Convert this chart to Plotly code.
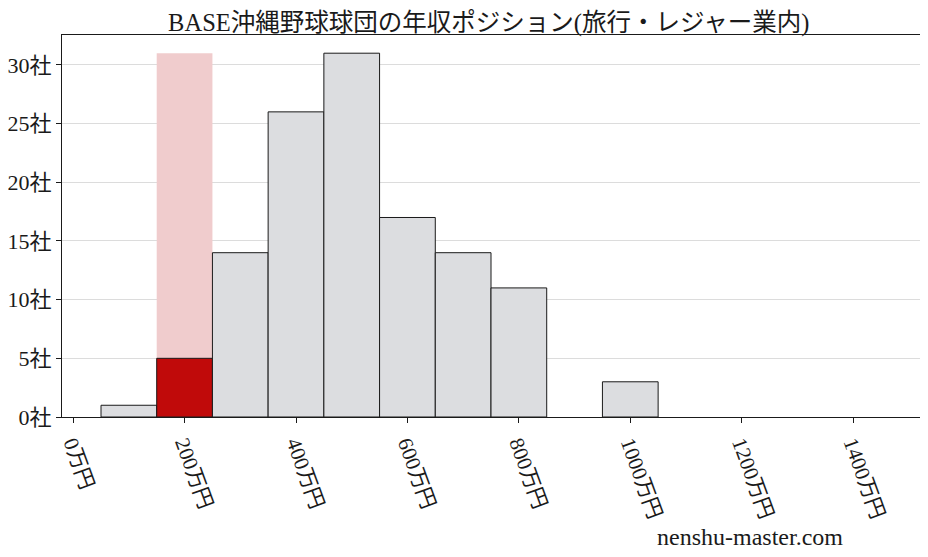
import plotly.graph_objects as go

# histogram bins (centre of each 100万円 bin) and company counts
bin_centers = [100, 200, 300, 400, 500, 600, 700, 800, 900, 1000]
counts = [1, 5, 14, 26, 31, 17, 14, 11, 0, 3]
highlight_center = 200  # bin where BASE沖縄野球球団 sits

x_ticks = [0, 200, 400, 600, 800, 1000, 1200, 1400]
x_labels = [f"{v}万円" for v in x_ticks]
y_ticks = [0, 5, 10, 15, 20, 25, 30]
y_labels = [f"{v}社" for v in y_ticks]

title = "BASE沖縄野球球団の年収ポジション(旅行・レジャー業内)"
font = "Liberation Serif, DejaVu Serif, Noto Sans CJK JP"

fig = go.Figure()

# pale column behind the company's bin
fig.add_trace(go.Bar(
    x=[highlight_center], y=[max(counts)], width=100,
    marker=dict(color="#f0cccd", line=dict(width=0)),
    hoverinfo="skip", showlegend=False
))

bar_colors = ["#c00a0a" if c == highlight_center else "#dcdde0" for c in bin_centers]
edge_widths = [1 if n > 0 else 0 for n in counts]
fig.add_trace(go.Bar(
    x=bin_centers, y=counts, width=100,
    marker=dict(color=bar_colors, line=dict(color="#1a1a1a", width=edge_widths)),
    showlegend=False
))

fig.update_layout(
    width=928, height=557,
    margin=dict(l=54, r=16, t=27, b=148),
    barmode="overlay",
    plot_bgcolor="white", paper_bgcolor="white",
    font=dict(family=font, color="#1a1a1a", size=20),
    title=dict(text=title, x=0.518, xanchor="center", y=0.975, yanchor="middle",
               font=dict(size=24.5, family=font)),
    annotations=[dict(
        text="nenshu-master.com", xref="paper", yref="paper",
        x=0.802, y=-0.315, xanchor="center", yanchor="middle",
        showarrow=False, font=dict(size=24, family=font)
    )]
)

fig.update_xaxes(
    range=[-20, 1520], tickvals=x_ticks, ticktext=x_labels, tickangle=70,
    showgrid=False, zeroline=False, automargin=False,
    showline=True, linecolor="#1a1a1a", linewidth=1, mirror=True,
    ticks="outside", ticklen=5, tickcolor="#1a1a1a",
    tickfont=dict(size=21)
)
fig.update_yaxes(
    range=[0, 32.55], tickvals=y_ticks, ticktext=y_labels,
    showgrid=True, gridcolor="#dcdcdc", gridwidth=1, zeroline=False, automargin=False,
    showline=True, linecolor="#1a1a1a", linewidth=1, mirror=True,
    ticks="outside", ticklen=5, tickcolor="#1a1a1a",
    tickfont=dict(size=22)
)

fig.write_html("out.html")
